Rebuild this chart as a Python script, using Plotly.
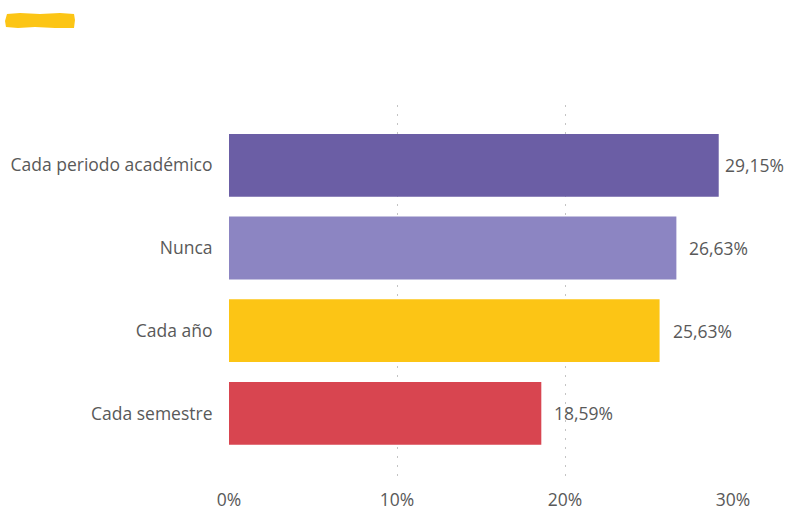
import plotly.graph_objects as go

categories = ["Cada periodo académico", "Nunca", "Cada año", "Cada semestre"]
values = [29.15, 26.63, 25.63, 18.59]
value_labels = ["29,15%", "26,63%", "25,63%", "18,59%"]
tick_vals = [0, 10, 20, 30]
tick_text = ["0%", "10%", "20%", "30%"]

colors = ["#6b5ea5", "#8c85c2", "#fcc515", "#d84550"]
label_shifts = [4, 11, 11, 11]

FONT = "Open Sans"
TXT = "#595959"
FS = 17.5

W, H = 787, 509
L, R, T, B = 229, 54, 105, 27
PW, PH = W - L - R, H - T - B


def px(x):
    return (x - L) / PW


def py(y):
    return (H - B - y) / PH


fig = go.Figure()
fig.add_trace(go.Bar(
    y=categories, x=values, orientation="h",
    marker=dict(color=colors, line=dict(width=0)),
    hoverinfo="skip",
))

for c, v, t, s in zip(categories, values, value_labels, label_shifts):
    fig.add_annotation(x=v, y=c, text=t, showarrow=False, xanchor="left",
                       yanchor="middle", xshift=s,
                       font=dict(family=FONT, size=FS, color=TXT))

# decorative yellow brush stroke in top-left
pts = [(7, 14), (20, 13), (40, 14), (60, 13), (74, 14), (75, 20), (74, 28),
       (55, 28), (35, 27), (18, 28), (6, 27), (5, 21)]
path = "M " + " L ".join(f"{px(x):.4f},{py(y):.4f}" for x, y in pts) + " Z"
fig.add_shape(type="path", xref="paper", yref="paper", path=path,
              fillcolor="#fcc515", line=dict(width=0), layer="above")

fig.update_layout(
    width=W, height=H,
    margin=dict(l=L, r=R, t=T, b=B),
    paper_bgcolor="white", plot_bgcolor="white",
    bargap=0.24,
    showlegend=False,
    font=dict(family=FONT, size=FS, color=TXT),
    xaxis=dict(range=[0, 30], tickvals=tick_vals, ticktext=tick_text,
               showgrid=True, gridcolor="#c4c4c4", griddash="2px,7px", gridwidth=1,
               zeroline=False, showline=False, automargin=False,
               tickfont=dict(family=FONT, size=FS, color=TXT),
               ticks="outside", ticklen=2, tickcolor="rgba(0,0,0,0)"),
    yaxis=dict(range=[3.83, -0.73], showgrid=False, zeroline=False,
               showline=False, automargin=False, ticks="outside", ticklen=12,
               tickcolor="rgba(0,0,0,0)",
               tickfont=dict(family=FONT, size=FS, color=TXT)),
)

fig.write_html("out.html", config={"displayModeBar": False},
               post_script="document.body.style.margin='0';")
